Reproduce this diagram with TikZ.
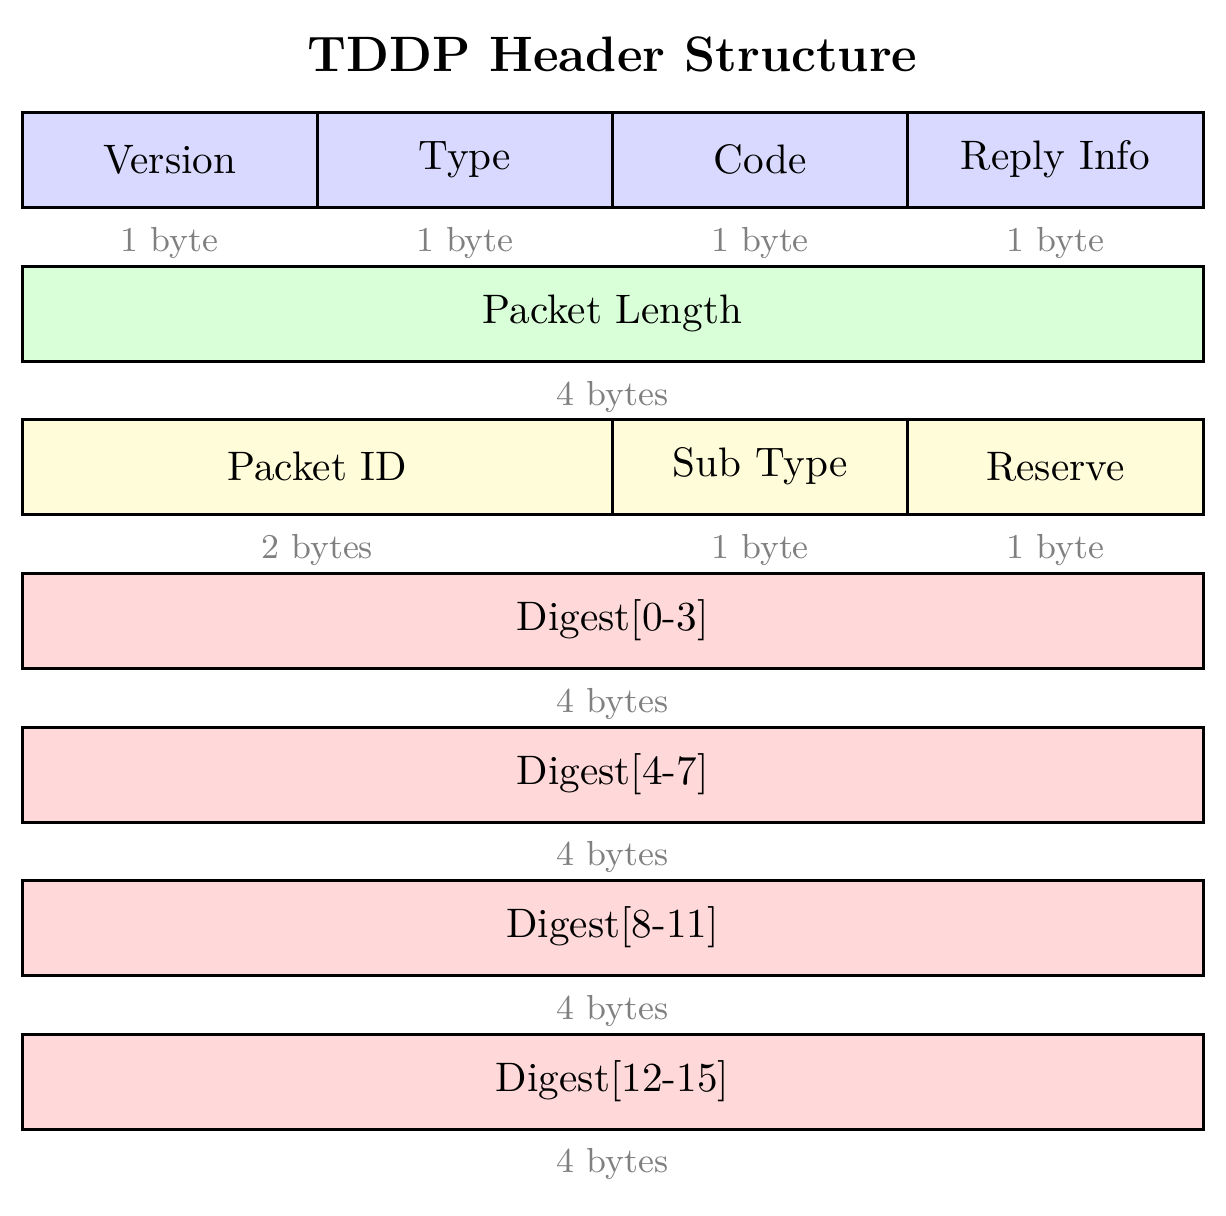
\documentclass[tikz,border=0pt]{standalone}
\usetikzlibrary{positioning}
\tikzset{
  field/.style={draw=black, line width=0.75pt, inner sep=0pt, outer sep=0pt, anchor=north west, minimum height=23.75pt, font=\fontsize{10.3}{12}\selectfont},
  onecol/.style={field, minimum width=73.8125pt},
  twocol/.style={field, minimum width=147.625pt},
  fullrow/.style={field, minimum width=295.25pt},
  sizelbl/.style={text=gray, font=\fontsize{8.7}{10}\selectfont, inner sep=0pt},
  blueF/.style={fill=blue!15},
  greenF/.style={fill=green!15},
  yellowF/.style={fill=yellow!15},
  redF/.style={fill=red!15},
}
\begin{document}
\begin{tikzpicture}[x=0.25pt, y=-0.25pt]
\useasboundingbox (0,0) rectangle (1226,1215);
\node[font=\fontsize{12.45}{15}\selectfont\bfseries] (title) at (612.5,54) {TDDP Header Structure};
% row 1
\node[onecol, blueF] (version) at (22,112) {Version};
\node[onecol, blueF] (type) at (317.25,112) {Type};
\node[onecol, blueF] (code) at (612.5,112) {Code};
\node[onecol, blueF] (reply) at (907.75,112) {Reply Info};
\node[sizelbl] (l1a) at (169.6,243) {1 byte};
\node[sizelbl] (l1b) at (464.9,243) {1 byte};
\node[sizelbl] (l1c) at (760.1,243) {1 byte};
\node[sizelbl] (l1d) at (1055.4,243) {1 byte};
% row 2
\node[fullrow, greenF] (plen) at (22,266) {Packet Length};
\node[sizelbl] (l2) at (612.5,397) {4 bytes};
% row 3
\node[twocol, yellowF] (pid) at (22,419) {Packet ID};
\node[onecol, yellowF] (sub) at (612.5,419) {Sub Type};
\node[onecol, yellowF] (res) at (907.75,419) {Reserve};
\node[sizelbl] (l3a) at (317.25,550) {2 bytes};
\node[sizelbl] (l3b) at (760.1,550) {1 byte};
\node[sizelbl] (l3c) at (1055.4,550) {1 byte};
% digests
\node[fullrow, redF] (d0) at (22,573) {Digest[0-3]};
\node[sizelbl] (l4) at (612.5,704) {4 bytes};
\node[fullrow, redF] (d1) at (22,727) {Digest[4-7]};
\node[sizelbl] (l5) at (612.5,857) {4 bytes};
\node[fullrow, redF] (d2) at (22,880) {Digest[8-11]};
\node[sizelbl] (l6) at (612.5,1011) {4 bytes};
\node[fullrow, redF] (d3) at (22,1034) {Digest[12-15]};
\node[sizelbl] (l7) at (612.5,1164) {4 bytes};
\end{tikzpicture}
\end{document}
